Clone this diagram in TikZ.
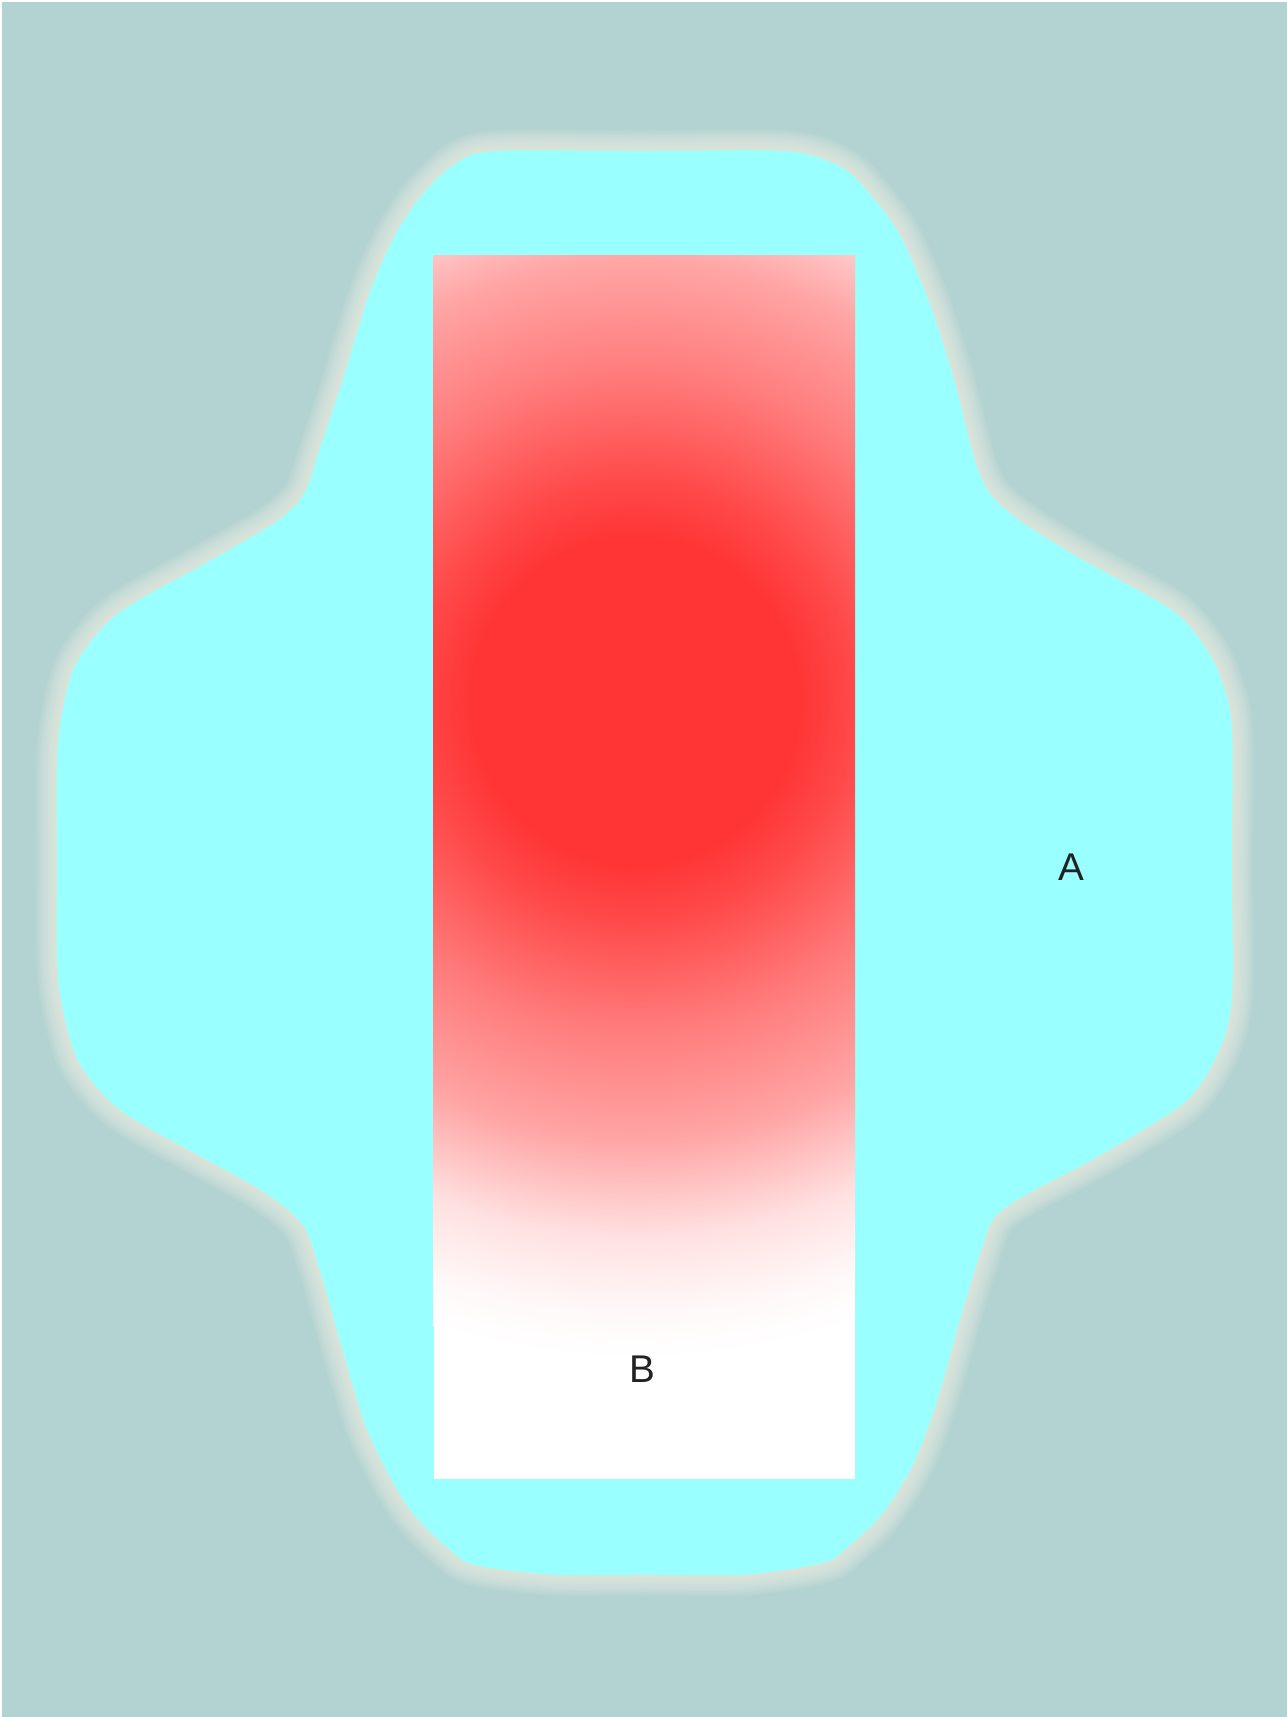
\documentclass[tikz,border=0pt]{standalone}
\usepackage{fontspec}
\setmainfont{Liberation Sans}
\usetikzlibrary{positioning}
\definecolor{backdrop}{HTML}{B3D3D3}
\definecolor{lobecyan}{HTML}{99FFFF}
\definecolor{halo}{HTML}{F1F3E4}
\definecolor{core}{RGB}{255,53,53}
\definecolor{ink}{HTML}{222222}
\pgfdeclareradialshading{coreglow}{\pgfpoint{0bp}{0bp}}{%
  color(0bp)=(core); color(6.25bp)=(core); color(8.35bp)=(core!90!white);
  color(12.5bp)=(core!65!white); color(16.65bp)=(core!45!white);
  color(20.4bp)=(core!15!white); color(23.35bp)=(core!3!white);
  color(25bp)=(white); color(50bp)=(white)}
\tikzset{
  lobe outline/.style={insert path={plot[smooth cycle, tension=0.5] coordinates {
    (452,138) (585,138) (717,138) (765,151) (790,172) (822,215) (850,280) (872,350)
    (890,420) (905,452) (935,478) (990,512) (1070,557) (1100,590) (1115,620)
    (1125,665) (1125,790) (1125,912) (1112,962) (1085,1004) (1040,1034) (992,1062)
    (937,1091) (908,1112) (895,1145) (878,1200) (857,1275) (835,1335) (806,1382)
    (775,1412) (752,1427) (680,1438) (589,1438) (505,1438) (433,1429) (408,1413)
    (377,1382) (354,1345) (333,1300) (312,1230) (292,1160) (276,1118) (240,1088)
    (183,1056) (110,1014) (72,970) (56,915) (52,870) (52,786) (52,695) (57,650)
    (70,605) (108,560) (183,517) (250,478) (277,452) (292,410) (312,350) (336,272)
    (357,222) (382,182) (415,150)}}},
  label text/.style={text=ink, font=\fontsize{11}{13}\selectfont, inner sep=0pt}
}
\begin{document}
\begin{tikzpicture}[x=0.010953cm, y=-0.010953cm]
  \useasboundingbox (0,0) rectangle (1175,1568);
  % Background
  \fill[white] (0,0) rectangle (1175,1568);
  \fill[backdrop] (1.5,1.5) rectangle (1175,1568);

  % Soft halo round the cross-shaped lobe
  \foreach \w in {1,...,12}
    \draw[halo, line width=\w pt, opacity=0.09, line join=round, lobe outline];
  \fill[lobecyan, lobe outline];

  % Panel with radial glow
  \fill[white] (396,233) rectangle (781,1351);
  \begin{scope}
    \clip (396,233) rectangle (781,1351);
    \shade[shading=coreglow] (580,640) circle (600);
  \end{scope}

  % Labels
  \node[label text] (labelA) at (978,792) {A};
  \node[label text] (labelB) at (587,1250) {B};
\end{tikzpicture}
\end{document}
